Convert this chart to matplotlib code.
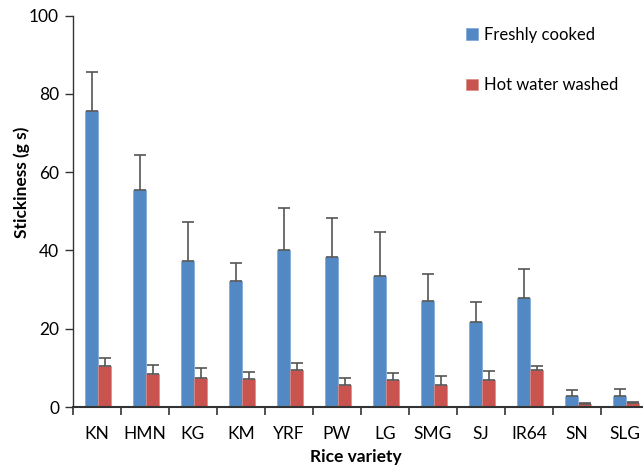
import matplotlib
matplotlib.use("Agg")
import matplotlib.pyplot as plt
import numpy as np

categories = ["KN", "HMN", "KG", "KM", "YRF", "PW", "LG", "SMG", "SJ", "IR64", "SN", "SLG"]
fresh = [75.6, 55.4, 37.3, 32.2, 40.1, 38.4, 33.6, 27.1, 21.7, 27.9, 2.7, 2.7]
fresh_err = [10.0, 9.0, 10.1, 4.7, 10.7, 9.8, 11.1, 6.8, 5.1, 7.3, 1.6, 1.8]
washed = [10.4, 8.4, 7.5, 7.2, 9.5, 5.6, 7.0, 5.5, 7.0, 9.4, 0.8, 0.9]
washed_err = [2.1, 2.3, 2.4, 1.7, 1.8, 1.7, 1.8, 2.3, 2.2, 1.0, 0.2, 0.5]
yticks = [0, 20, 40, 60, 80, 100]

plt.rcParams['font.family'] = ['Lato', 'DejaVu Sans']

fig = plt.figure(figsize=(6.43, 4.68), dpi=100)
ax = fig.add_axes([73/643, 1 - 407/468, 576/643, (407 - 15.7)/468])

x = np.arange(len(categories))
w = 0.27
blue = "#5289C5"
red = "#C9544F"
ekw = dict(ecolor="#555555", elinewidth=1.2, capsize=4, capthick=1.2)
ax.bar(x - w/2 + 0.03, fresh, w, color=blue, edgecolor="#7FA6D6", linewidth=0.5,
       yerr=[np.zeros(len(fresh)), fresh_err], error_kw=ekw, label="Freshly cooked")
ax.bar(x + w/2 + 0.03, washed, w, color=red, edgecolor="#D98C88", linewidth=0.5,
       yerr=[np.zeros(len(washed)), washed_err], error_kw=ekw, label="Hot water washed")

ax.set_xlim(-0.5, len(categories) - 0.5)
ax.set_ylim(0, 100)
ax.set_yticks(yticks)
ax.set_yticklabels([str(t) for t in yticks], fontsize=12.5)
ax.set_xticks(x)
ax.set_xticklabels(categories, fontsize=12.5)
ax.tick_params(axis='x', length=0, pad=14)
ax.set_xticks(np.arange(len(categories) + 1) - 0.5, minor=True)
ax.tick_params(axis='x', which='minor', length=6, width=1.2, color="#333333", direction='out')
ax.tick_params(axis='y', length=6, width=1.0, color="#333333", direction='out', pad=4)
for s in ["top", "right"]:
    ax.spines[s].set_visible(False)
ax.spines["left"].set_color("#333333")
ax.spines["bottom"].set_color("#333333")
ax.spines["left"].set_linewidth(1.0)
ax.spines["bottom"].set_linewidth(1.5)

fig.text(22/643, 1 - 182/468, "Stickiness (g s)", rotation=90, ha="center", va="center",
         fontsize=12.5, fontweight="bold")
fig.text(356/643, 1 - 457/468, "Rice variety", ha="center", va="center",
         fontsize=12.5, fontweight="bold")

ax.legend(loc="upper left", bbox_to_anchor=(466/643, 1 - 27/468), bbox_transform=fig.transFigure,
          frameon=False, fontsize=12, handlelength=0.7, handleheight=0.7, handletextpad=0.4,
          labelspacing=2.05, borderpad=0, borderaxespad=0)

fig.savefig("out.png", dpi=100)
